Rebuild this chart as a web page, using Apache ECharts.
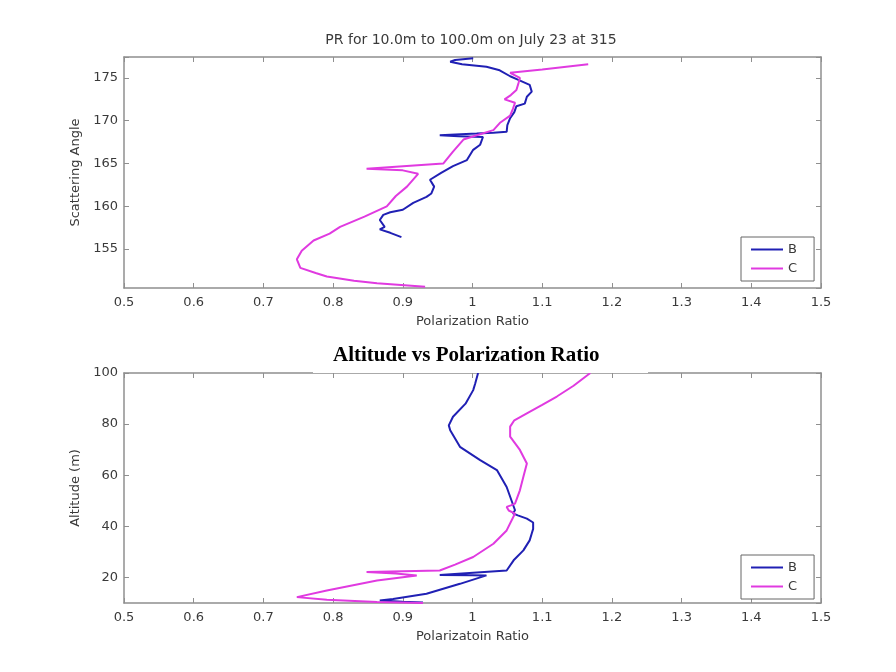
<!DOCTYPE html>
<html>
<head>
<meta charset="utf-8">
<title>Polarization Ratio</title>
<script src="https://cdn.jsdelivr.net/npm/echarts@6/dist/echarts.min.js"></script>
<style>
  html, body { margin: 0; padding: 0; background: #ffffff; }
  #chart { width: 896px; height: 672px; }
</style>
</head>
<body>
<div id="chart"></div>
<script>
// [polarization ratio, scattering angle]
const angleB = [
  [1.001, 177.3], [0.975, 177.1], [0.968, 176.9], [0.985, 176.6], [1.02, 176.3],
  [1.039, 175.9], [1.054, 175.2], [1.065, 174.8], [1.082, 174.2], [1.085, 173.4],
  [1.078, 172.8], [1.075, 172.0], [1.063, 171.7], [1.06, 171.0], [1.054, 170.3],
  [1.05, 169.5], [1.049, 168.7], [1.03, 168.6], [1.006, 168.5], [0.953, 168.3],
  [0.98, 168.2], [1.015, 168.1], [1.011, 167.2], [1.001, 166.6], [0.992, 165.4],
  [0.972, 164.7], [0.955, 163.9], [0.939, 163.1], [0.945, 162.3], [0.941, 161.5],
  [0.934, 161.1], [0.915, 160.4], [0.900, 159.6], [0.882, 159.3], [0.872, 159.0],
  [0.867, 158.4], [0.874, 157.6], [0.867, 157.3], [0.882, 156.9], [0.898, 156.4]
];
const angleC = [
  [1.166, 176.6], [1.10, 176.0], [1.054, 175.6], [1.068, 175.0], [1.066, 174.4],
  [1.063, 173.6], [1.055, 173.0], [1.046, 172.5], [1.061, 172.1], [1.058, 171.4],
  [1.054, 170.6], [1.040, 169.8], [1.030, 168.9], [1.006, 168.3], [0.987, 167.8],
  [0.972, 166.4], [0.958, 165.0], [0.848, 164.4], [0.90, 164.2], [0.922, 163.8],
  [0.906, 162.3], [0.89, 161.2], [0.877, 160.0], [0.845, 158.8], [0.81, 157.6],
  [0.795, 156.8], [0.772, 156.0], [0.755, 154.8], [0.748, 153.8], [0.753, 152.8],
  [0.775, 152.2], [0.791, 151.8], [0.83, 151.3], [0.863, 151.0], [0.932, 150.6]
];
// [polarization ratio, altitude m]
const altB = [
  [1.008, 100], [1.004, 96], [1.001, 93.3], [0.99, 88], [0.972, 82.9],
  [0.966, 79.5], [0.968, 77.6], [0.982, 71.1], [1.011, 65.9], [1.035, 62.0],
  [1.049, 55.4], [1.061, 46.3], [1.058, 45.1], [1.065, 44.3], [1.078, 43.0],
  [1.087, 41.5], [1.087, 39], [1.085, 37.2], [1.082, 34.5], [1.073, 30.6],
  [1.059, 26.7], [1.049, 22.7], [0.953, 21.0], [1.0, 20.9], [1.020, 20.8],
  [0.982, 17.5], [0.934, 13.6], [0.886, 11.6], [0.867, 11.0], [0.90, 10.5],
  [0.929, 10.2]
];
const altC = [
  [1.169, 100], [1.145, 95], [1.121, 90.8], [1.10, 87.5], [1.078, 84.2],
  [1.06, 81.5], [1.054, 79.0], [1.054, 75.1], [1.068, 69.9], [1.078, 64.6],
  [1.073, 59.4], [1.068, 54.1], [1.061, 48.9], [1.055, 48.2], [1.049, 47.6],
  [1.052, 46.2], [1.061, 45.0], [1.049, 38.4], [1.030, 33.2], [1.001, 28.0],
  [0.975, 25.0], [0.953, 22.7], [0.848, 22.1], [0.89, 21.5], [0.920, 20.8],
  [0.863, 18.8], [0.791, 14.9], [0.748, 12.3], [0.791, 11.3], [0.863, 10.4],
  [0.929, 10.0]
];
const seriesNames = ['B', 'C'];
const prRange = [0.5, 1.5];
const angleRange = [150.45, 177.45];
const altRange = [10, 100];

const frame = '#8f8f8f';
const font = '"DejaVu Sans", Verdana, sans-serif';
const textCol = '#3a3a3a';
const colB = '#2020b4';
const colC = '#e03ae0';

function xAxis(grid, pos, name) {
  return {
    type: 'value', gridIndex: grid, position: pos,
    min: prRange[0], max: prRange[1], interval: 0.1,
    axisLine: { show: true, lineStyle: { color: frame, width: 1.5 } },
    axisTick: { show: true, inside: true, length: 5, lineStyle: { color: frame } },
    axisLabel: { show: pos === 'bottom', color: textCol, fontSize: 13, margin: 8, fontFamily: font },
    splitLine: { show: false },
    name: pos === 'bottom' ? name : '',
    nameLocation: 'middle', nameGap: 27,
    nameTextStyle: { color: textCol, fontSize: 13, fontFamily: font }
  };
}
function yAxis(grid, pos, range, name) {
  return {
    type: 'value', gridIndex: grid, position: pos,
    min: range[0], max: range[1], splitNumber: 5,
    axisLine: { show: true, lineStyle: { color: frame, width: 1.5 } },
    axisTick: { show: true, inside: true, length: 5, lineStyle: { color: frame } },
    axisLabel: {
      show: pos === 'left', color: textCol, fontSize: 13, margin: 6, fontFamily: font,
      showMinLabel: false,
      formatter: v => (Math.abs(v - Math.round(v)) < 1e-6 ? String(Math.round(v)) : '')
    },
    splitLine: { show: false },
    name: pos === 'left' ? name : '',
    nameLocation: 'middle', nameGap: 31, nameRotate: 90,
    nameTextStyle: { color: textCol, fontSize: 13, fontFamily: font }
  };
}
function line(name, data, grid, color) {
  return {
    name, type: 'line', data, xAxisIndex: grid * 2, yAxisIndex: grid * 2,
    symbol: 'none', smooth: false, color,
    lineStyle: { color, width: 2 }
  };
}
function legend(top) {
  return {
    data: seriesNames, orient: 'vertical', left: 741, top,
    itemWidth: 32, itemHeight: 12, itemGap: 6,
    padding: [6, 17, 6, 9],
    itemStyle: { opacity: 0 },
    borderColor: '#666', borderWidth: 1, backgroundColor: '#fff',
    textStyle: { color: textCol, fontSize: 13, fontFamily: font }
  };
}

const chart = echarts.init(document.getElementById('chart'));
chart.setOption({
  backgroundColor: '#ffffff',
  animation: false,
  grid: [
    { left: 124, top: 57, width: 697, height: 231 },
    { left: 124, top: 373, width: 697, height: 230 }
  ],
  xAxis: [
    xAxis(0, 'bottom', 'Polarization Ratio'), xAxis(0, 'top'),
    xAxis(1, 'bottom', 'Polarizatoin Ratio'), xAxis(1, 'top')
  ],
  yAxis: [
    yAxis(0, 'left', angleRange, 'Scattering Angle'), yAxis(0, 'right', angleRange),
    yAxis(1, 'left', altRange, 'Altitude (m)'), yAxis(1, 'right', altRange)
  ],
  legend: [legend(237), legend(555)],
  series: [
    line('B', angleB, 0, colB), line('C', angleC, 0, colC),
    line('B', altB, 1, colB), line('C', altC, 1, colC)
  ],
  graphic: [
    {
      type: 'text', x: 471, y: 40, z: 100,
      style: {
        text: 'PR for 10.0m to 100.0m on July 23 at 315',
        font: '14px ' + font, fill: textCol,
        align: 'center', verticalAlign: 'middle'
      }
    },
    {
      type: 'rect', x: 313, y: 335, z: 100,
      shape: { x: 0, y: 0, width: 335, height: 38 },
      style: { fill: '#ffffff' }
    },
    {
      type: 'text', x: 333, y: 356, z: 101,
      style: {
        text: 'Altitude vs Polarization Ratio',
        font: 'bold 21px "Liberation Serif", "Times New Roman", serif', fill: '#000',
        verticalAlign: 'middle'
      }
    }
  ]
});
</script>
</body>
</html>
